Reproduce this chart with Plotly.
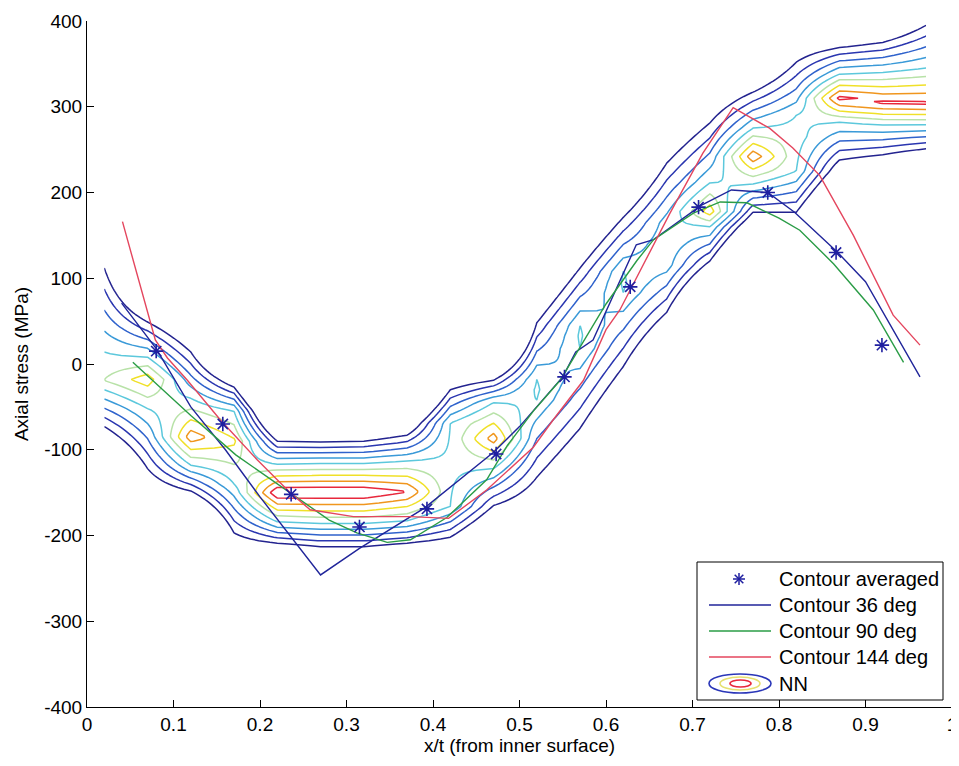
import numpy as np
import plotly.graph_objects as go

# ---------------- data ----------------
# Contour averaged (stars)
avg_x = [0.08, 0.157, 0.236, 0.315, 0.393, 0.473, 0.552, 0.628, 0.707, 0.787, 0.866, 0.919]
avg_y = [15, -70, -152, -190, -169, -105, -15, 90, 183, 200, 130, 22]

# Contour 36 deg
c36_x = [0.04, 0.08, 0.12, 0.16, 0.2, 0.27, 0.315, 0.39, 0.47, 0.5, 0.55, 0.565, 0.585,
         0.635, 0.655, 0.71, 0.745, 0.787, 0.818, 0.867, 0.9, 0.963]
c36_y = [71, 18, -50, -100, -155, -246, -215, -168, -103, -73, -15, 14, 28,
         139, 145, 185, 203, 200, 177, 131, 96, -15]

# Contour 90 deg
c90_x = [0.053, 0.09, 0.12, 0.172, 0.235, 0.28, 0.312, 0.347, 0.374, 0.416, 0.462, 0.486,
         0.516, 0.547, 0.6, 0.636, 0.655, 0.701, 0.732, 0.763, 0.8, 0.824, 0.863, 0.909, 0.944]
c90_y = [2, -32, -60, -106, -150, -182, -197, -208, -205, -179, -135, -95,
         -55, -19, 70, 121, 145, 176, 189, 188, 170, 156, 117, 63, 2]

# Contour 144 deg
c144_x = [0.041, 0.079, 0.093, 0.116, 0.154, 0.197, 0.235, 0.258, 0.308, 0.374, 0.418, 0.462,
          0.516, 0.539, 0.574, 0.6, 0.616, 0.64, 0.674, 0.712, 0.747, 0.789, 0.816, 0.847,
          0.886, 0.932, 0.963]
c144_y = [166, 28, 7, -19, -65, -112, -150, -170, -178, -178, -180, -147,
          -97, -65, -19, 40, 63, 110, 176, 246, 299, 275, 252, 220,
          150, 57, 22]

# NN contour: grid columns and per-column profile (centre, peak level, level-mid and level-1 crossings)
nn_x = [0.02, 0.07, 0.12, 0.17, 0.22, 0.27, 0.32, 0.37, 0.42, 0.47,
        0.52, 0.57, 0.62, 0.67, 0.72, 0.77, 0.82, 0.87, 0.92, 0.97]
nn_center = [-19, -18, -85, -90, -150, -150, -150, -149, -120, -87,
             -30, 33, 95, 140, 178, 242, 265, 310, 305, 304]
nn_peak = [6.03, 7.6, 8.6, 7.2, 9.9, 9.9, 9.9, 9.05, 5.3, 8.5,
           5.15, 5.15, 5.15, 4.8, 7.6, 8.7, 5.5, 9.3, 9.2, 9.2]
nn_mid_level = [5, 5, 5, 5, 5, 5, 5, 5, 5, 5,
                5, 5, 5, 4.5, 5, 5, 5, 5, 5, 5]
nn_top_mid = [14, 8, -40, -55, -117, -116, -116, -113, -69, -45,
              -18, 45, 108, 165, 211, 275, 290, 338, 340, 345]
nn_bot_mid = [-30, -52, -118, -140, -184, -186, -186, -183, -166, -122,
              -42, 18, 83, 115, 160, 210, 225, 282, 279, 279]
nn_top_outer = [112, 49, 14, -27, -90, -91, -90, -83, -30, -19,
                48, 112, 171, 234, 281, 317, 352, 369, 375, 395]
nn_bot_outer = [-73, -122, -148, -197, -209, -213, -213, -209, -202, -165,
                -132, -75, -3, 60, 120, 177, 177, 238, 244, 251]
nn_levels = [1, 2, 3, 4, 5, 6, 7, 8, 9]
level_colors = ['#23238f', '#2a36b0', '#2f62cc', '#3a9ad8', '#5cc8dc',
                '#b8e2a8', '#f0e028', '#f0961e', '#e8283c']

x_ticks = [0, 0.1, 0.2, 0.3, 0.4, 0.5, 0.6, 0.7, 0.8, 0.9, 1]
x_ticktext = ['0', '0.1', '0.2', '0.3', '0.4', '0.5', '0.6', '0.7', '0.8', '0.9', '1']
y_ticks = [-400, -300, -200, -100, 0, 100, 200, 300, 400]
y_ticktext = ['-400', '-300', '-200', '-100', '0', '100', '200', '300', '400']

# ---------------- build NN grid ----------------
y_grid = np.arange(-400, 401, 2.0)
Z = np.zeros((len(y_grid), len(nn_x)))
for j in range(len(nn_x)):
    c, P, m = nn_center[j], nn_peak[j], nn_mid_level[j]
    tm, bm, t1, b1 = nn_top_mid[j], nn_bot_mid[j], nn_top_outer[j], nn_bot_outer[j]
    s_lo = (m - 1) / (bm - b1)
    s_hi = (m - 1) / (t1 - tm)
    yk = [-3000, b1, bm, c, tm, t1, 3000]
    zk = [1 - s_lo * (b1 + 3000), 1, m, P, m, 1, 1 - s_hi * (3000 - t1)]
    Z[:, j] = np.interp(y_grid, yk, zk)

n = len(level_colors)
colorscale = [[i / (n - 1), col] for i, col in enumerate(level_colors)]

FONT = 'Liberation Sans, Arial, sans-serif'
STAR = '#1f1fa0'
fig = go.Figure()

fig.add_trace(go.Contour(
    x=nn_x, y=y_grid, z=Z,
    contours=dict(start=nn_levels[0], end=nn_levels[-1], size=1, coloring='lines'),
    colorscale=colorscale, zmin=nn_levels[0], zmax=nn_levels[-1],
    showscale=False, line=dict(width=1.5, smoothing=0),
    hoverinfo='skip', name='NN', showlegend=False))

fig.add_trace(go.Scatter(x=c36_x, y=c36_y, mode='lines', name='Contour 36 deg',
                         line=dict(color='#20259a', width=1.4), showlegend=False))
fig.add_trace(go.Scatter(x=c90_x, y=c90_y, mode='lines', name='Contour 90 deg',
                         line=dict(color='#2a9c46', width=1.4), showlegend=False))
fig.add_trace(go.Scatter(x=c144_x, y=c144_y, mode='lines', name='Contour 144 deg',
                         line=dict(color='#e4465e', width=1.4), showlegend=False))
fig.add_trace(go.Scatter(x=avg_x, y=avg_y, mode='markers', name='Contour averaged',
                         marker=dict(symbol='asterisk-open', size=12, color=STAR,
                                     line=dict(color=STAR, width=1.6)),
                         showlegend=False))

# ---------------- layout geometry ----------------
# the page body has an 8 px margin, so the figure is placed 8 px right/down
OFF = 8
W, H = 959 - OFF, 766 - 2 * OFF
L, R, T, B = 79, 7, 13, 51
pw, ph = W - L - R, H - T - B

def px(xp):  # page pixel -> paper x
    return (xp - OFF - L) / pw

def py(yp):  # page pixel -> paper y
    return (H - B - (yp - OFF)) / ph

# ---------------- custom legend ----------------
shapes = []
shapes.append(dict(type='rect', xref='paper', yref='paper', x0=px(697), x1=px(943),
                   y0=py(700), y1=py(562), line=dict(color='black', width=1),
                   fillcolor='white', layer='above'))
rows = [579, 605, 631, 657, 684]
labels = ['Contour averaged', 'Contour 36 deg', 'Contour 90 deg', 'Contour 144 deg', 'NN']
cx, cy, r = 739, rows[0], 6
for dx, dy in [(r, 0), (0, r), (r * 0.72, r * 0.72), (r * 0.72, -r * 0.72)]:
    shapes.append(dict(type='line', xref='paper', yref='paper', x0=px(cx - dx), x1=px(cx + dx),
                       y0=py(cy - dy), y1=py(cy + dy), line=dict(color=STAR, width=1.5),
                       layer='above'))
for rowy, col in zip(rows[1:4], ['#20259a', '#2a9c46', '#e4465e']):
    shapes.append(dict(type='line', xref='paper', yref='paper', x0=px(709), x1=px(771),
                       y0=py(rowy), y1=py(rowy), line=dict(color=col, width=1.5), layer='above'))
for (x0, x1, y0, y1), col in zip([(709, 771, 674, 693), (720, 760, 677, 690), (730, 751, 680, 687)],
                                 ['#2a36b8', '#e6e070', '#e8283c']):
    shapes.append(dict(type='circle', xref='paper', yref='paper', x0=px(x0), x1=px(x1),
                       y0=py(y1), y1=py(y0), line=dict(color=col, width=1.6), layer='above'))

annotations = []
for rowy, lab in zip(rows, labels):
    annotations.append(dict(xref='paper', yref='paper', x=px(777), y=py(rowy), text=lab,
                            showarrow=False, xanchor='left', yanchor='middle',
                            font=dict(family=FONT, size=20, color='black')))

fig.update_layout(
    width=W, height=H,
    margin=dict(l=L, r=R, t=T, b=B, autoexpand=False),
    paper_bgcolor='white', plot_bgcolor='white',
    font=dict(family=FONT, size=19, color='black'),
    shapes=shapes, annotations=annotations,
    showlegend=False,
    xaxis=dict(range=[0, 1], tickvals=x_ticks, ticktext=x_ticktext, showgrid=False,
               zeroline=False, showline=True, linecolor='black', linewidth=1,
               ticks='inside', ticklen=7, tickcolor='black', mirror=False, automargin=False,
               tickfont=dict(size=19), ticklabeloverflow='allow',
               title=dict(text='x/t (from inner surface)', font=dict(size=19), standoff=3)),
    yaxis=dict(range=[-400, 400], tickvals=y_ticks, ticktext=y_ticktext, showgrid=False,
               zeroline=False, showline=True, linecolor='black', linewidth=1,
               ticks='inside', ticklen=7, tickcolor='black', mirror=False, automargin=False,
               tickfont=dict(size=19), ticklabeloverflow='allow',
               title=dict(text='Axial stress (MPa)', font=dict(size=19), standoff=10)),
)

fig.write_html('out.html')
